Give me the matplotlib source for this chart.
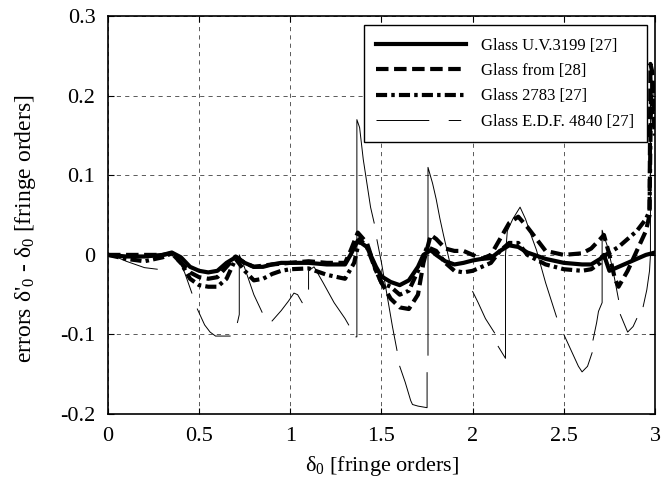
import numpy as np
import matplotlib
matplotlib.use("Agg")
import matplotlib.pyplot as plt
from matplotlib.lines import Line2D

plt.rcParams['font.family'] = ['Liberation Serif', 'DejaVu Serif']
plt.rcParams['mathtext.fontset'] = 'custom'
plt.rcParams['mathtext.rm'] = 'Liberation Serif'
plt.rcParams['mathtext.it'] = 'Liberation Serif:italic'
plt.rcParams['lines.scale_dashes'] = False

nan = np.nan

# Glass U.V.3199 [27]
x_uv = [0, 0.1, 0.2, 0.3, 0.35, 0.4, 0.45, 0.5, 0.55, 0.6, 0.65, 0.7, 0.75, 0.8, 0.85, 0.9,
        0.95, 1.0, 1.1, 1.2, 1.3, 1.33, 1.37, 1.42, 1.47, 1.5, 1.55, 1.6, 1.65, 1.7, 1.73,
        1.77, 1.8, 1.85, 1.9, 1.95, 2.0, 2.05, 2.1, 2.15, 2.2, 2.25, 2.3, 2.4, 2.5, 2.6,
        2.65, 2.7, 2.72, 2.75, 2.8, 2.85, 2.9, 2.95, 3.0]
y_uv = [0, -0.002, -0.002, 0, 0.003, -0.003, -0.015, -0.02, -0.022, -0.02, -0.01, -0.003,
        -0.01, -0.015, -0.015, -0.012, -0.01, -0.01, -0.01, -0.012, -0.012, 0.0, 0.018,
        0.01, -0.015, -0.027, -0.034, -0.038, -0.032, -0.015, 0.0, 0.006, 0.0, -0.008,
        -0.012, -0.01, -0.007, -0.005, -0.004, 0.005, 0.012, 0.01, 0.003, -0.005, -0.01,
        -0.012, -0.012, -0.005, 0.0, -0.02, -0.015, -0.01, -0.005, 0.0, 0.003]

# Glass from [28]
x_28 = [0, 0.3, 0.35, 0.4, 0.45, 0.5, 0.55, 0.6, 0.65, 0.7, 0.75, 0.8, 0.9, 1.0, 1.1, 1.2,
        1.3, 1.33, 1.37, 1.42, 1.47, 1.5, 1.55, 1.6, 1.65, 1.7, 1.73, 1.77, 1.8, 1.85, 1.9,
        1.95, 2.0, 2.05, 2.1, 2.15, 2.2, 2.25, 2.3, 2.35, 2.4, 2.5, 2.6, 2.65, 2.7, 2.72,
        2.75, 2.78, 2.8, 2.85, 2.9, 2.95, 2.97, 2.975, 2.985, 3.0]
y_28 = [0, 0, 0.002, -0.01, -0.022, -0.028, -0.03, -0.028, -0.015, -0.002, -0.01, -0.015,
        -0.012, -0.01, -0.008, -0.01, -0.01, 0.005, 0.028, 0.015, -0.02, -0.035, -0.055,
        -0.066, -0.068, -0.05, -0.01, 0.025, 0.02, 0.008, 0.005, 0.005, 0.0, -0.005, 0.0,
        0.02, 0.04, 0.048, 0.035, 0.02, 0.005, 0.0, 0.002, 0.008, 0.02, 0.025, 0.0, -0.03,
        -0.04, -0.02, 0.005, 0.03, 0.05, 0.24, 0.23, 0.16]

# Glass 2783 [27]
x_27 = [0, 0.1, 0.2, 0.3, 0.35, 0.4, 0.45, 0.5, 0.55, 0.6, 0.65, 0.7, 0.75, 0.8, 0.85, 0.9,
        0.95, 1.0, 1.1, 1.2, 1.3, 1.35, 1.38, 1.42, 1.47, 1.5, 1.55, 1.6, 1.65, 1.7, 1.75,
        1.8, 1.85, 1.9, 1.95, 2.0, 2.05, 2.1, 2.15, 2.2, 2.25, 2.3, 2.4, 2.5, 2.6, 2.65,
        2.7, 2.73, 2.8, 2.85, 2.9, 2.95, 2.97, 2.978, 3.0]
y_27 = [0, -0.005, -0.008, -0.003, 0.002, -0.01, -0.03, -0.038, -0.04, -0.04, -0.03,
        -0.005, -0.02, -0.032, -0.03, -0.024, -0.02, -0.018, -0.017, -0.025, -0.03, -0.01,
        0.02, 0.01, -0.02, -0.035, -0.04, -0.05, -0.045, -0.02, 0.01, 0.005, -0.01, -0.02,
        -0.022, -0.02, -0.015, -0.01, 0.005, 0.015, 0.015, 0.0, -0.012, -0.018, -0.02,
        -0.018, -0.01, 0.0, 0.01, 0.02, 0.03, 0.045, 0.055, 0.2, 0.15]

# Glass E.D.F. 4840 [27]  (nan = break in the curve)
x_edf = [0, 0.05, 0.1, 0.15, 0.2, 0.27, nan,
         0.40, 0.42, 0.44, 0.46, nan,
         0.49, 0.51, 0.53, 0.56, 0.59, 0.67, nan,
         0.71, 0.72, 0.72, 0.74, 0.77, 0.8, 0.845, nan,
         0.9, 0.95, 0.99, 1.02, 1.04, 1.065, nan,
         1.10, 1.10, 1.13, 1.18, 1.24, 1.3, 1.32, nan,
         1.36, 1.365, 1.365, 1.38, 1.40, 1.42, 1.44, 1.46, nan,
         1.475, 1.5, 1.53, 1.56, 1.585, nan,
         1.60, 1.63, 1.66, 1.67, 1.70, 1.75, 1.75, nan,
         1.755, 1.755, 1.78, 1.80, 1.82, 1.84, 1.88, nan,
         2.0, 2.03, 2.07, 2.12, nan,
         2.14, 2.18, 2.18, 2.19, 2.22, 2.26, 2.29, 2.32, 2.35, 2.4, 2.46, nan,
         2.5, 2.54, 2.58, 2.6, 2.63, 2.655, nan,
         2.66, 2.68, 2.69, 2.71, 2.71, 2.74, 2.77, 2.80, nan,
         2.81, 2.85, 2.88, 2.9, nan,
         2.935, 2.955, 2.97, 2.975, 2.975, 2.99]
y_edf = [0, -0.003, -0.008, -0.012, -0.016, -0.018, nan,
         -0.012, -0.022, -0.035, -0.048, nan,
         -0.068, -0.078, -0.088, -0.097, -0.102, -0.102, nan,
         -0.085, -0.075, 0.0, -0.01, -0.03, -0.05, -0.072, nan,
         -0.083, -0.07, -0.058, -0.048, -0.05, -0.06, nan,
         -0.043, -0.02, -0.015, -0.035, -0.06, -0.08, -0.088, nan,
         -0.103, -0.103, 0.17, 0.16, 0.12, 0.09, 0.06, 0.04, nan,
         0.019, -0.01, -0.05, -0.09, -0.12, nan,
         -0.14, -0.16, -0.183, -0.188, -0.19, -0.192, -0.148, nan,
         -0.126, 0.11, 0.09, 0.07, 0.046, 0.025, -0.015, nan,
         -0.046, -0.06, -0.08, -0.098, nan,
         -0.115, -0.13, 0.0, 0.03, 0.045, 0.06, 0.045, 0.025, 0.006, -0.035, -0.078, nan,
         -0.1, -0.12, -0.14, -0.147, -0.14, -0.123, nan,
         -0.107, -0.085, -0.071, -0.06, 0.031, 0.01, -0.02, -0.056, nan,
         -0.075, -0.097, -0.09, -0.08, nan,
         -0.065, -0.044, -0.02, 0.0, 0.24, 0.2]

labels = ['Glass U.V.3199 [27]', 'Glass from [28]', 'Glass 2783 [27]', 'Glass E.D.F. 4840 [27]']
xticks = [0, 0.5, 1, 1.5, 2, 2.5, 3]
xtick_labels = ['0', '0.5', '1', '1.5', '2', '2.5', '3']
yticks = [-0.2, -0.1, 0, 0.1, 0.2, 0.3]
ytick_labels = ['-0.2', '-0.1', '0', '0.1', '0.2', '0.3']

fig = plt.figure(figsize=(6.72, 4.9), dpi=100)
ax = fig.add_axes([0.1607, 0.155, 0.814, 0.812])

ax.plot(x_edf, y_edf, color='k', lw=0.7)
ax.plot(x_27, y_27, color='k', lw=3.0, dashes=(8, 3, 2.5, 3))
ax.plot(x_28, y_28, color='k', lw=3.0, dashes=(9, 4))
ax.plot(x_uv, y_uv, color='k', lw=3.0)

ax.set_xlim(0, 3)
ax.set_ylim(-0.2, 0.3)
ax.set_xticks(xticks)
ax.set_xticklabels(xtick_labels)
ax.set_yticks(yticks)
ax.set_yticklabels(ytick_labels)
ax.tick_params(direction='in', top=True, right=True, labelsize=16, length=4, pad=9)
ax.grid(True, color='0.25', lw=0.6, dashes=(3, 3))
for s in ax.spines.values():
    s.set_linewidth(1.2)

ax.set_xlabel(r'δ$_\mathregular{0}$ [fringe orders]', fontsize=16, labelpad=6)
ax.set_ylabel(r"errors δ'$_\mathregular{0}$ - δ$_\mathregular{0}$ [fringe orders]", fontsize=17)
ax.yaxis.set_label_coords(-0.128, 0.465)

handles = [Line2D([], [], color='k', lw=3.0),
           Line2D([], [], color='k', lw=3.0, dashes=(9, 4)),
           Line2D([], [], color='k', lw=3.0, dashes=(8, 3, 2.5, 3)),
           Line2D([], [], color='k', lw=0.7, dashes=(38, 14, 9, 40))]
leg = ax.legend(handles, labels, loc='upper right', bbox_to_anchor=(0.985, 0.977),
                fontsize=12, handlelength=5.4, handletextpad=0.9, labelspacing=0.56,
                borderaxespad=0, fancybox=False, framealpha=1, edgecolor='k',
                borderpad=0.75)
leg.get_frame().set_linewidth(1.0)

fig.savefig('out.png', dpi=100)
